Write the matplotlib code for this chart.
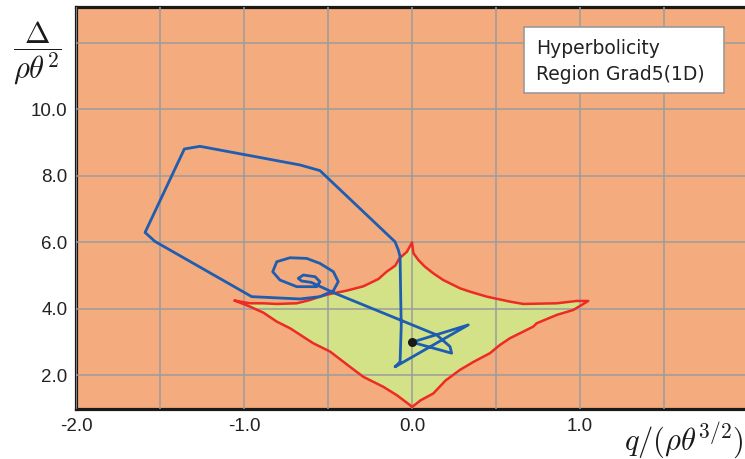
import matplotlib
matplotlib.use("Agg")
import matplotlib.pyplot as plt
from matplotlib.patches import Rectangle

plt.rcParams["mathtext.fontset"] = "cm"

# hyperbolicity region boundary (closed polygon, left tip -> top -> right tip -> bottom)
region_q = [-1.054, -0.964, -0.885, -0.805, -0.686, -0.607, -0.548, -0.488, -0.389, -0.290,
            -0.200, -0.151, -0.100, -0.075, -0.030, 0.0,
            0.008, 0.038, 0.077, 0.127, 0.186, 0.286, 0.345, 0.445, 0.583, 0.663,
            0.861, 0.980, 1.049,
            0.960, 0.861, 0.742, 0.722, 0.583, 0.524, 0.464, 0.370, 0.286, 0.200,
            0.127, 0.050, 0.0,
            -0.012, -0.091, -0.171, -0.290, -0.369, -0.488, -0.588, -0.726, -0.805,
            -0.885, -0.964, -1.054]
region_d = [4.25, 4.17, 4.17, 4.15, 4.17, 4.27, 4.37, 4.45, 4.55, 4.68,
            4.90, 5.12, 5.30, 5.52, 5.72, 6.00,
            5.68, 5.47, 5.27, 5.07, 4.87, 4.62, 4.52, 4.37, 4.22, 4.15,
            4.17, 4.24, 4.24,
            3.97, 3.82, 3.57, 3.47, 3.12, 2.92, 2.67, 2.42, 2.17, 1.85,
            1.46, 1.25, 1.05,
            1.11, 1.41, 1.66, 1.96, 2.26, 2.72, 2.97, 3.42, 3.62,
            3.89, 4.07, 4.25]

# trajectory
traj_q = [0.0, 0.335, -0.101, -0.071, -0.064, -0.067, -0.071, -0.081, -0.101, -0.548,
          -0.667, -1.262, -1.355, -1.589, -1.530, -0.954, -0.667, -0.548, -0.468, -0.439,
          -0.468, -0.548, -0.627, -0.726, -0.805, -0.829, -0.786, -0.686, -0.567, -0.548,
          -0.577, -0.647, -0.677, -0.657, -0.60, -0.458, 0.147, 0.226, 0.236, 0.0]
traj_d = [3.00, 3.52, 2.26, 2.41, 3.50, 4.27, 5.57, 5.77, 6.02, 8.16,
          8.33, 8.89, 8.81, 6.30, 6.03, 4.37, 4.30, 4.37, 4.55, 4.82,
          5.12, 5.37, 5.52, 5.54, 5.42, 5.12, 4.87, 4.67, 4.67, 4.82,
          4.97, 5.02, 4.92, 4.84, 4.80, 4.47, 3.22, 2.87, 2.67, 3.00]

start_q, start_d = 0.0, 3.0

x_ticks = [-2.0, -1.5, -1.0, -0.5, 0.0, 0.5, 1.0, 1.5]
x_labels = ["-2.0", "", "-1.0", "", "0.0", "", "1.0", ""]
y_ticks = [2, 4, 6, 8, 10, 12]
y_labels = ["2.0", "4.0", "6.0", "8.0", "10.0", ""]

fig = plt.figure(figsize=(7.45, 4.59), dpi=100)
ax = fig.add_axes([76 / 745, 49.7 / 459, 672 / 745, 402 / 459])
ax.set_facecolor("#F4AB7D")

ax.fill(region_q, region_d, color="#D3E287", lw=0, zorder=1)
ax.plot(region_q, region_d, color="#EE2A24", lw=1.8, zorder=3)
ax.plot(traj_q, traj_d, color="#1E5DB0", lw=2.0, zorder=4, solid_joinstyle="round")
ax.plot([start_q], [start_d], "o", color="#1a1a1a", ms=5.5, zorder=5)

ax.set_xlim(-2.0, 2.0)
ax.set_ylim(0.983, 13.07)
ax.set_xticks(x_ticks)
ax.set_xticklabels(x_labels)
ax.set_yticks(y_ticks)
ax.set_yticklabels(y_labels)
ax.tick_params(length=0, labelsize=13.5, labelcolor="#222222", pad=6)
for lab in ax.get_xticklabels() + ax.get_yticklabels():
    lab.set_family(["Liberation Sans", "DejaVu Sans"])

ax.set_axisbelow(False)
ax.grid(True, color="#9c9c9c", lw=1.1)
for s in ["left", "bottom", "top"]:
    ax.spines[s].set_linewidth(2.3)
    ax.spines[s].set_color("#1a1a1a")
ax.spines["right"].set_visible(False)

# info box
ax.add_patch(Rectangle((0.6667, 0.786), 0.2976, 0.1657, transform=ax.transAxes,
                       fc="white", ec="#9a9a9a", lw=1.2, zorder=6))
ax.text(0.6845, 0.883, "Hyperbolicity", transform=ax.transAxes, fontsize=13.5,
        va="baseline", ha="left", color="#222222", zorder=7)
ax.text(0.6845, 0.819, "Region Grad5(1D)", transform=ax.transAxes, fontsize=13.5,
        va="baseline", ha="left", color="#222222", zorder=7)

fig.text(37 / 745, 1 - 53 / 459, r"$\dfrac{\Delta}{\rho\theta^2}$", fontsize=22,
         ha="center", va="center", color="#1a1a1a")
fig.text(0.998, 1 - 440 / 459, r"$q/(\rho\theta^{3/2})$", fontsize=22,
         ha="right", va="center", color="#1a1a1a")

fig.savefig("out.png", dpi=100)
